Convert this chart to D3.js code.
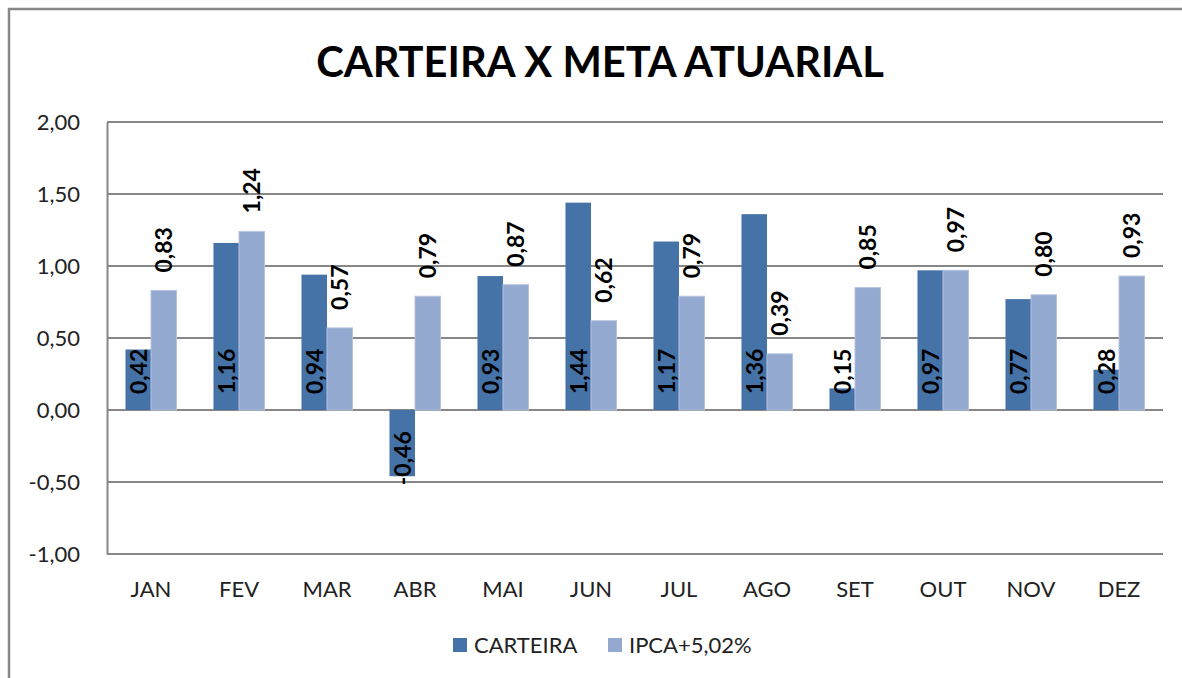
<!DOCTYPE html>
<html>
<head>
<meta charset="utf-8">
<script src="https://cdn.jsdelivr.net/npm/d3@7"></script>
<style>
  body { margin: 0; background: #fff; }
  svg { display: block; font-family: Lato, "Open Sans", sans-serif; }
</style>
</head>
<body>
<svg id="chart" width="1182" height="678"></svg>
<script>
const months = ["JAN", "FEV", "MAR", "ABR", "MAI", "JUN", "JUL", "AGO", "SET", "OUT", "NOV", "DEZ"];
const carteira = [0.42, 1.16, 0.94, -0.46, 0.93, 1.44, 1.17, 1.36, 0.15, 0.97, 0.77, 0.28];
const ipca = [0.83, 1.24, 0.57, 0.79, 0.87, 0.62, 0.79, 0.39, 0.85, 0.97, 0.80, 0.93];
const yTicks = [-1, -0.5, 0, 0.5, 1, 1.5, 2];
const seriesNames = ["CARTEIRA", "IPCA+5,02%"];
const colors = ["#4572a7", "#93a9cf"];

const svg = d3.select("#chart");
const fmt = v => d3.format(".2f")(v).replace(".", ",").replace("−", "-");

// outer frame
svg.append("rect")
    .attr("x", 9).attr("y", 9)
    .attr("width", 1200).attr("height", 700)
    .attr("fill", "none").attr("stroke", "#878787").attr("stroke-width", 2.5);

// title, fit to its width in the reference
const title = svg.append("text")
    .attr("x", 600).attr("y", 77)
    .attr("text-anchor", "middle")
    .attr("font-weight", "bold")
    .attr("font-size", 42)
    .text("CARTEIRA X META ATUARIAL");
const tw = title.node().getComputedTextLength();
title.attr("font-size", 42 * 568 / tw);

const margin = { left: 107, right: 1163, top: 122, bottom: 554 };

const x = d3.scaleBand().domain(months)
    .range([margin.left, margin.right])
    .paddingInner(0.42).paddingOuter(0.21);
const xs = d3.scaleBand().domain([0, 1]).range([0, x.bandwidth()]);
const y = d3.scaleLinear().domain([-1, 2]).range([margin.bottom, margin.top]);

// gridlines
svg.append("g").selectAll("line").data(yTicks).join("line")
    .attr("x1", margin.left).attr("x2", margin.right)
    .attr("y1", d => y(d)).attr("y2", d => y(d))
    .attr("stroke", "#878787").attr("stroke-width", 2);

// y axis
const yAxis = svg.append("g")
    .attr("transform", `translate(${margin.left},0)`)
    .call(d3.axisLeft(y).tickValues(yTicks).tickSize(0).tickPadding(27).tickFormat(fmt));
yAxis.select(".domain").attr("stroke", "#878787").attr("stroke-width", 2);
yAxis.selectAll("text").attr("font-size", 22).attr("fill", "#222")
    .attr("font-family", "Lato, sans-serif");

// x axis labels
const xAxis = svg.append("g")
    .attr("transform", `translate(0,${margin.bottom})`)
    .call(d3.axisBottom(x).tickSize(0).tickPadding(27));
xAxis.select(".domain").remove();
xAxis.selectAll("text").attr("font-size", 22).attr("fill", "#222")
    .attr("font-family", "Lato, sans-serif");

const series = [carteira, ipca];

series.forEach((vals, si) => {
    const g = svg.append("g");
    g.selectAll("rect").data(vals).join("rect")
        .attr("x", (d, i) => x(months[i]) + xs(si))
        .attr("width", xs.bandwidth())
        .attr("y", d => y(Math.max(0, d)))
        .attr("height", d => Math.abs(y(d) - y(0)))
        .attr("fill", colors[si])
        .attr("stroke", si === 1 ? "#b4c4e0" : "none")
        .attr("stroke-width", 1);

    g.selectAll("text").data(vals).join("text")
        .attr("transform", (d, i) => {
            const cx = x(months[i]) + xs(si) + xs.bandwidth() / 2;
            let ty;
            if (si === 0) ty = d >= 0 ? y(0) - 16 : y(d) + 9;
            else ty = y(d) - 18;
            return `translate(${cx},${ty}) rotate(-90)`;
        })
        .attr("dy", "0.36em")
        .attr("font-size", 23)
        .attr("font-weight", "bold")
        .attr("fill", "#000")
        .text(d => fmt(d));
});

// legend
const legend = svg.append("g");
const legendX = [453, 608];
seriesNames.forEach((name, i) => {
    legend.append("rect")
        .attr("x", legendX[i]).attr("y", 638)
        .attr("width", 14).attr("height", 14)
        .attr("fill", colors[i]);
    legend.append("text")
        .attr("x", legendX[i] + 21).attr("y", 653)
        .attr("font-size", 22).attr("fill", "#222")
        .text(name);
});
</script>
</body>
</html>
